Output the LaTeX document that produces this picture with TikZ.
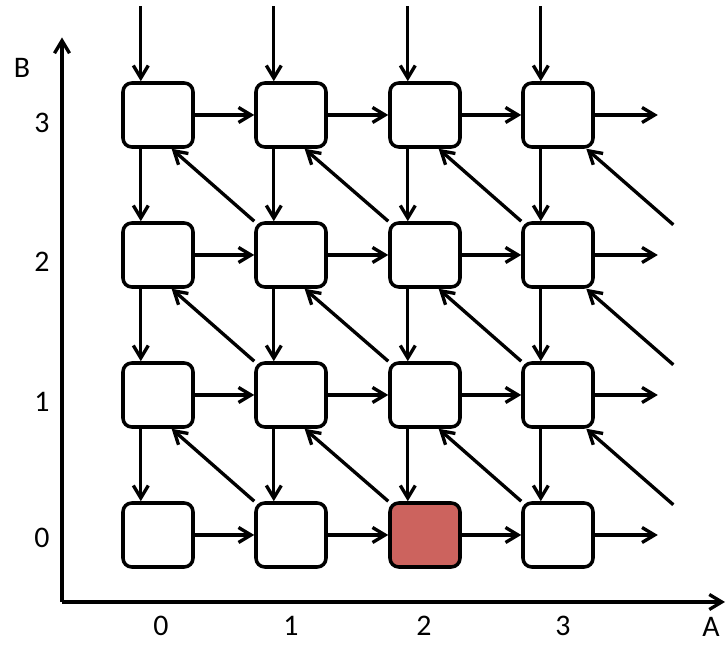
\documentclass[tikz,border=0pt]{standalone}
\usepackage{fontspec}
\setmainfont{Carlito}
\usepackage{tikz}
\usetikzlibrary{positioning, calc, arrows.meta}
\definecolor{hitred}{RGB}{204,99,94}
\tikzset{cell/.style = {rectangle,draw,rounded corners=5pt,minimum width=1.4cm,minimum height=1.28cm,inner sep=0pt,line width=2pt,fill=white}}
\tikzset{flow/.style = {-{Straight Barb[length=2.5mm,width=3mm]},line width=1.9pt}}
\tikzset{lab/.style = {font=\fontsize{17}{20}\selectfont,inner sep=0pt}}

\begin{document}
\begin{tikzpicture}
                    \useasboundingbox (0,0) rectangle (14.54,12.9);
                    \begin{scope}
                        \coordinate (O) at (1.24,0.86);
                        \coordinate (Aend) at (14.5,0.86);
                        \coordinate (Bend) at (1.24,12.15);
                        \draw [flow] (O) -- (Aend);
                        \draw [flow] (O) -- (Bend);

                        \node [lab] (A) at (14.22,0.36) {A};
                        \node [lab] (B) at (0.44,11.55) {B};

                        \node [lab] (b3) at (0.84,10.44) {3};
                        \node [lab] (b2) at (0.84,7.66) {2};
                        \node [lab] (b1) at (0.84,4.86) {1};
                        \node [lab] (b0) at (0.84,2.14) {0};

                        \node [lab] (a0) at (3.22,0.38) {0};
                        \node [lab] (a1) at (5.82,0.38) {1};
                        \node [lab] (a2) at (8.48,0.38) {2};
                        \node [lab] (a3) at (11.26,0.38) {3};
                    \end{scope}
                    \begin{scope}
                        \node [cell] (c03) at ( 3.16,10.6) {};
                        \node [cell] (c13) at ( 5.82,10.6) {};
                        \node [cell] (c23) at ( 8.50,10.6) {};
                        \node [cell] (c33) at (11.16,10.6) {};
                        \node [cell] (c02) at ( 3.16, 7.8) {};
                        \node [cell] (c12) at ( 5.82, 7.8) {};
                        \node [cell] (c22) at ( 8.50, 7.8) {};
                        \node [cell] (c32) at (11.16, 7.8) {};
                        \node [cell] (c01) at ( 3.16, 5.0) {};
                        \node [cell] (c11) at ( 5.82, 5.0) {};
                        \node [cell] (c21) at ( 8.50, 5.0) {};
                        \node [cell] (c31) at (11.16, 5.0) {};
                        \node [cell] (c00) at ( 3.16, 2.2) {};
                        \node [cell] (c10) at ( 5.82, 2.2) {};
                        \node [cell,fill=hitred] (c20) at ( 8.50, 2.2) {};
                        \node [cell] (c30) at (11.16, 2.2) {};

                        % A direction
                        \foreach \j in {0,...,3} {
                            \coordinate (out\j) at ($(c3\j.east)+(1.26,0)$);
                            \draw [flow] (c0\j) -- (c1\j);
                            \draw [flow] (c1\j) -- (c2\j);
                            \draw [flow] (c2\j) -- (c3\j);
                            \draw [flow] (c3\j) -- (out\j);
                        }
                        % B direction
                        \foreach \i in {0,...,3} {
                            \coordinate (top\i) at ($(c\i3.117)+(0,1.5)$);
                            \draw [flow] (top\i) -- (c\i3.117);
                            \draw [flow] (c\i3.-117) -- (c\i2.117);
                            \draw [flow] (c\i2.-117) -- (c\i1.117);
                            \draw [flow] (c\i1.-117) -- (c\i0.117);
                        }
                        % diagonals
                        \foreach \j [evaluate=\j as \m using int(\j-1)] in {1,2,3} {
                            \foreach \i [evaluate=\i as \k using int(\i+1)] in {0,1,2} {
                                \draw [flow] (c\k\m.north west) -- (c\i\j.-68);
                            }
                            \coordinate (far\j) at ($(c3\j.-50)+(1.74,-1.52)$);
                            \draw [flow] (far\j) -- (c3\j.-50);
                        }
                    \end{scope}
                \end{tikzpicture}
\end{document}
